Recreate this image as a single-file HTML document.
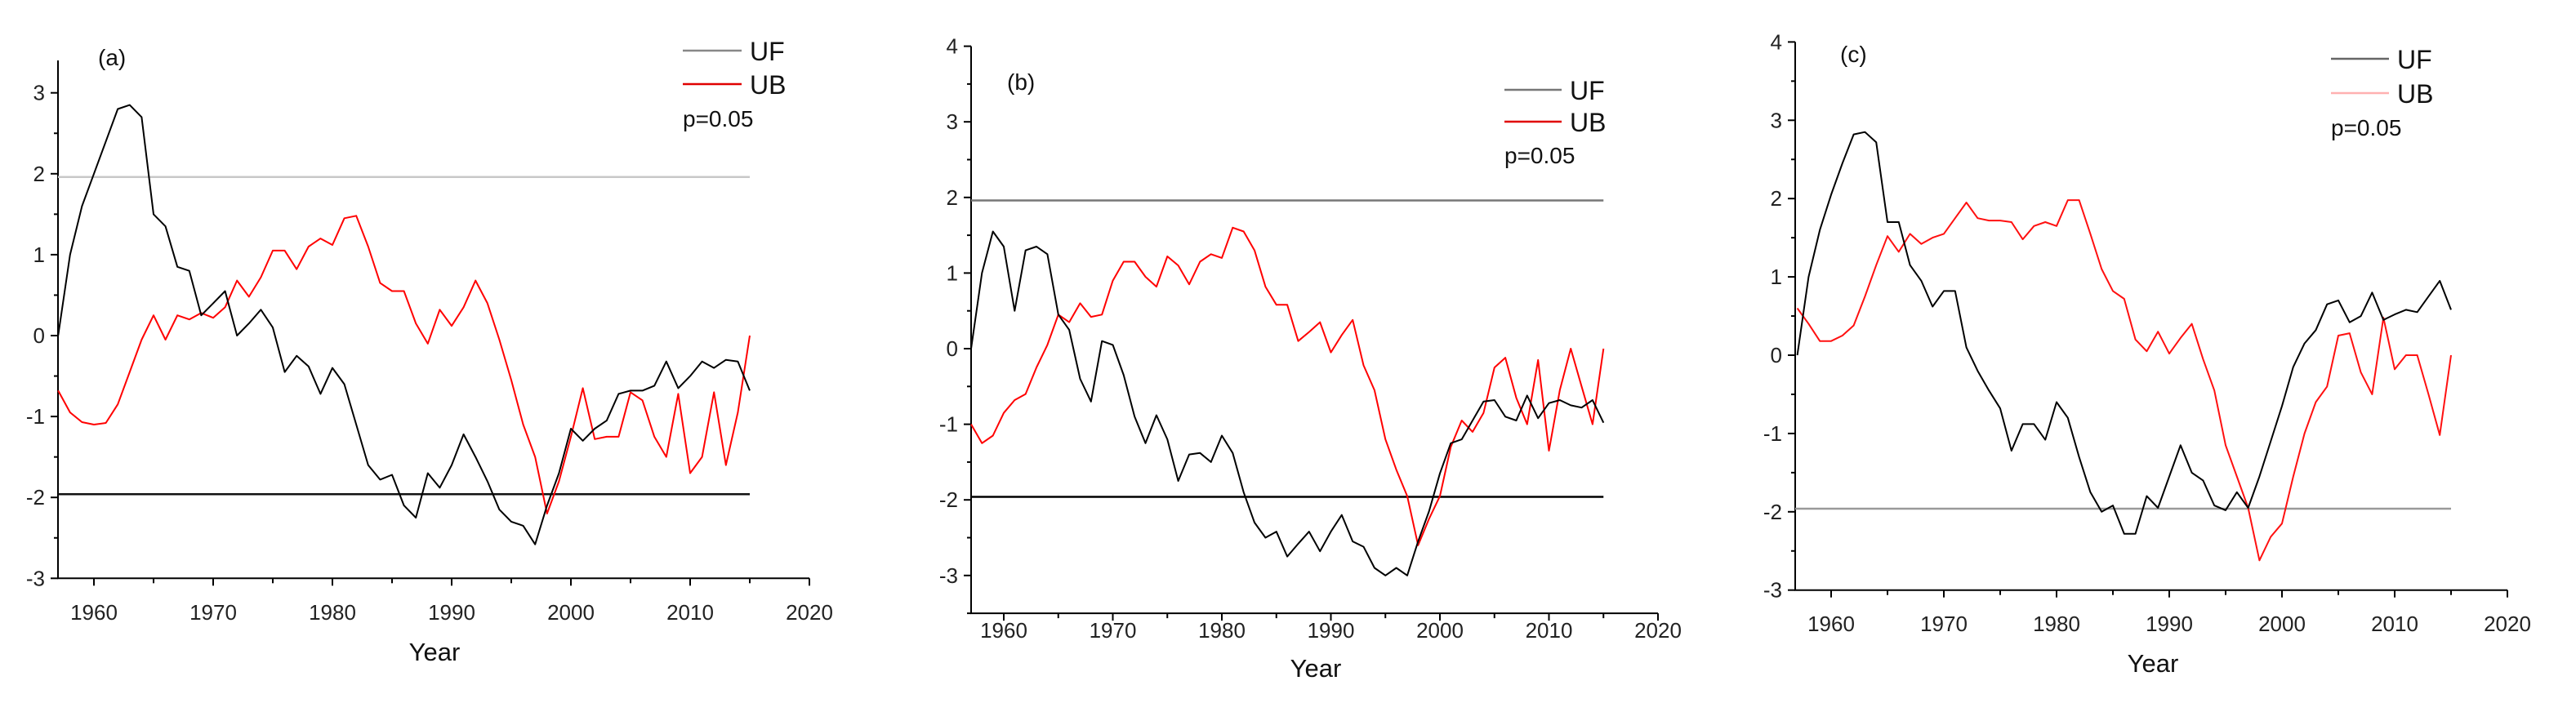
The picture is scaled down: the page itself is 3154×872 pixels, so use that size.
<!DOCTYPE html>
<html><head><meta charset="utf-8"><style>
html,body{margin:0;padding:0;background:#fff;}
svg{display:block;font-family:"Liberation Sans",Arial,sans-serif;}
</style></head><body>
<svg id="chart" width="3154" height="872" viewBox="0 0 3154 872"></svg>
<script>
const years = [];
for (let y = 1957; y <= 2015; y++) years.push(y);
const xTicks = [1960, 1970, 1980, 1990, 2000, 2010, 2020];

const ufA = [0,1.0,1.6,2.0,2.4,2.8,2.85,2.7,1.5,1.35,0.85,0.8,0.25,0.4,0.55,0.0,0.15,0.32,0.1,-0.45,-0.25,-0.38,-0.72,-0.4,-0.6,-1.1,-1.6,-1.78,-1.72,-2.1,-2.25,-1.7,-1.88,-1.6,-1.22,-1.5,-1.8,-2.15,-2.3,-2.35,-2.58,-2.1,-1.7,-1.15,-1.3,-1.15,-1.05,-0.72,-0.68,-0.68,-0.62,-0.32,-0.65,-0.5,-0.32,-0.4,-0.3,-0.32,-0.68];
const ubA = [-0.68,-0.95,-1.07,-1.1,-1.08,-0.85,-0.45,-0.05,0.25,-0.05,0.25,0.2,0.28,0.22,0.35,0.68,0.48,0.72,1.05,1.05,0.82,1.1,1.2,1.12,1.45,1.48,1.1,0.65,0.55,0.55,0.15,-0.1,0.32,0.12,0.35,0.68,0.4,-0.05,-0.55,-1.1,-1.5,-2.2,-1.8,-1.25,-0.65,-1.28,-1.25,-1.25,-0.7,-0.8,-1.25,-1.5,-0.72,-1.7,-1.5,-0.7,-1.6,-0.95,0.0];
const ufB = [0,1.0,1.55,1.35,0.5,1.3,1.35,1.25,0.45,0.25,-0.4,-0.7,0.1,0.05,-0.35,-0.9,-1.25,-0.88,-1.2,-1.75,-1.4,-1.38,-1.5,-1.15,-1.38,-1.9,-2.3,-2.5,-2.42,-2.75,-2.58,-2.42,-2.68,-2.42,-2.2,-2.55,-2.62,-2.9,-3.0,-2.9,-3.0,-2.55,-2.15,-1.65,-1.25,-1.2,-0.95,-0.7,-0.68,-0.9,-0.95,-0.62,-0.92,-0.72,-0.68,-0.75,-0.78,-0.68,-0.98];
const ubB = [-1.0,-1.25,-1.15,-0.85,-0.68,-0.6,-0.25,0.05,0.45,0.35,0.6,0.42,0.45,0.9,1.15,1.15,0.95,0.82,1.22,1.1,0.85,1.15,1.25,1.2,1.6,1.55,1.3,0.82,0.58,0.58,0.1,0.22,0.35,-0.05,0.18,0.38,-0.22,-0.55,-1.2,-1.6,-1.95,-2.6,-2.25,-1.95,-1.3,-0.95,-1.1,-0.85,-0.25,-0.12,-0.65,-1.0,-0.15,-1.35,-0.55,0.0,-0.5,-1.0,0.0];
const ufC = [0,1.0,1.6,2.05,2.45,2.82,2.85,2.72,1.7,1.7,1.15,0.95,0.62,0.82,0.82,0.1,-0.2,-0.45,-0.68,-1.22,-0.88,-0.88,-1.08,-0.6,-0.8,-1.3,-1.75,-2.0,-1.92,-2.28,-2.28,-1.8,-1.95,-1.55,-1.15,-1.5,-1.6,-1.92,-1.98,-1.75,-1.95,-1.55,-1.1,-0.65,-0.15,0.15,0.32,0.65,0.7,0.42,0.5,0.8,0.45,0.52,0.58,0.55,0.75,0.95,0.58];
const ubC = [0.6,0.4,0.18,0.18,0.25,0.38,0.75,1.15,1.52,1.32,1.55,1.42,1.5,1.55,1.75,1.95,1.75,1.72,1.72,1.7,1.48,1.65,1.7,1.65,1.98,1.98,1.55,1.1,0.82,0.72,0.2,0.05,0.3,0.02,0.22,0.4,-0.05,-0.45,-1.15,-1.55,-1.95,-2.62,-2.32,-2.15,-1.55,-1.0,-0.6,-0.4,0.25,0.28,-0.22,-0.5,0.48,-0.18,0.0,0.0,-0.5,-1.02,0.0];
const sigLevel = 1.96;

const NS = "http://www.w3.org/2000/svg";
const svg = document.getElementById("chart");
function el(tag, attrs, parent, text) {
  const e = document.createElementNS(NS, tag);
  for (const k in attrs) e.setAttribute(k, attrs[k]);
  if (text !== undefined) e.textContent = text;
  (parent || svg).appendChild(e);
  return e;
}

const panels = [
  {id:"a", uf:ufA, ub:ubA, x0:71, x1960:115, dec:146, y0:757/1.843, yMin:-3, yMax:3.4, unit:99.1, yZero:411, yTicks:[-3,-2,-1,0,1,2,3],
   upper:true, upperColor:"#c8c8c8", lowerColor:"#111", label:[120,80], leg:[836,908,62,103,145], ufLeg:"#888", ubLeg:"#e00000", ubColor:"#ff0000", year:[532,798], tickY:750},
  {id:"b", uf:ufB, ub:ubB, x0:1189, x1960:1229, dec:133.5, yMin:-3.5, yMax:4, unit:92.6, yZero:427, yTicks:[-3,-2,-1,0,1,2,3,4],
   upper:true, upperColor:"#777", lowerColor:"#000", label:[1233,110], leg:[1842,1912,110,149,190], ufLeg:"#777", ubLeg:"#e00000", ubColor:"#ff0000", year:[1611,818], tickY:772},
  {id:"c", uf:ufC, ub:ubC, x0:2198, x1960:2242, dec:138, yMin:-3, yMax:4, unit:95.9, yZero:435, yTicks:[-3,-2,-1,0,1,2,3,4],
   upper:false, upperColor:"#999", lowerColor:"#999", label:[2253,76], leg:[2854,2925,72,114,156], ufLeg:"#666", ubLeg:"#ffb0b0", ubColor:"#ff1010", year:[2636,812], tickY:764}
];

panels.forEach(p => {
  const g = el("g", {}, svg);
  
  
  const xs = v => p.x1960 + (v - 1960) * p.dec / 10;
  const ys = v => p.yZero - v * p.unit;
  const xEnd = xs(2020), yBot = ys(p.yMin), yTop = ys(p.yMax);

  // axes
  const ax = el("path", {d:`M${p.x0},${yTop} V${yBot} H${xEnd}`, fill:"none", stroke:"#000", "stroke-width":2}, g);
  
  

  // y ticks
  for (let v = p.yMin; v <= p.yMax + 1e-9; v += 0.5) {
    const major = Math.abs(v - Math.round(v)) < 1e-9;
    el("line", {x1:p.x0 - (major ? 9 : 5), x2:p.x0, y1:ys(v), y2:ys(v), stroke:"#000", "stroke-width":2}, g);
  }
  p.yTicks.forEach(v => {
    const t = el("text", {x:p.x0 - 16, y:ys(v) + 9, "text-anchor":"end", "font-size":26, fill:"#222"}, g, String(v));
    
    
  });
  // x ticks
  for (let v = 1960; v <= 2020; v += 5) {
    const major = v % 10 === 0;
    el("line", {x1:xs(v), x2:xs(v), y1:yBot, y2:yBot + (major ? 9 : 6), stroke:"#000", "stroke-width":2}, g);
  }
  xTicks.forEach(v => {
    const t = el("text", {x:xs(v), y:p.tickY + 9, "text-anchor":"middle", "font-size":26, fill:"#222"}, g, String(v));
    
    
  });
  const yt = el("text", {x:p.year[0], y:p.year[1] + 11, "text-anchor":"middle", "font-size":31, fill:"#111"}, g, "Year");
  
  

  // significance lines
  const xl = xs(2015);
  if (p.upper) {
    const u = el("line", {x1:p.x0, x2:xl, y1:ys(sigLevel), y2:ys(sigLevel), stroke:p.upperColor, "stroke-width":2.5}, g);
    
    
  }
  const lo = el("line", {x1:p.x0, x2:xl, y1:ys(-sigLevel), y2:ys(-sigLevel), stroke:p.lowerColor, "stroke-width":2.5}, g);
  
  

  // series
  const pts = arr => arr.map((v, i) => xs(years[i]).toFixed(1) + "," + ys(v).toFixed(1)).join(" ");
  const ub = el("polyline", {points:pts(p.ub), fill:"none", stroke:p.ubColor, "stroke-width":2, "stroke-linejoin":"round"}, g);
  
  
  const uf = el("polyline", {points:pts(p.uf), fill:"none", stroke:"#000", "stroke-width":2, "stroke-linejoin":"round"}, g);
  
  

  // panel label
  const pl = el("text", {x:p.label[0], y:p.label[1], "font-size":28, fill:"#111"}, g, "(" + p.id + ")");
  
  

  // legend
  const [lx1, lx2, yUF, yUB, yP] = p.leg;
  const l1 = el("line", {x1:lx1, x2:lx2, y1:yUF, y2:yUF, stroke:p.ufLeg, "stroke-width":2.5}, g);
  
  
  const t1 = el("text", {x:lx2 + 10, y:yUF + 12, "font-size":32, fill:"#111"}, g, "UF");
  
  
  const l2 = el("line", {x1:lx1, x2:lx2, y1:yUB, y2:yUB, stroke:p.ubLeg, "stroke-width":2.5}, g);
  
  
  const t2 = el("text", {x:lx2 + 10, y:yUB + 12, "font-size":32, fill:"#111"}, g, "UB");
  
  
  const t3 = el("text", {x:lx1, y:yP + 10, "font-size":28, fill:"#111"}, g, "p=0.05");
  
  
});
</script>
</body></html>
